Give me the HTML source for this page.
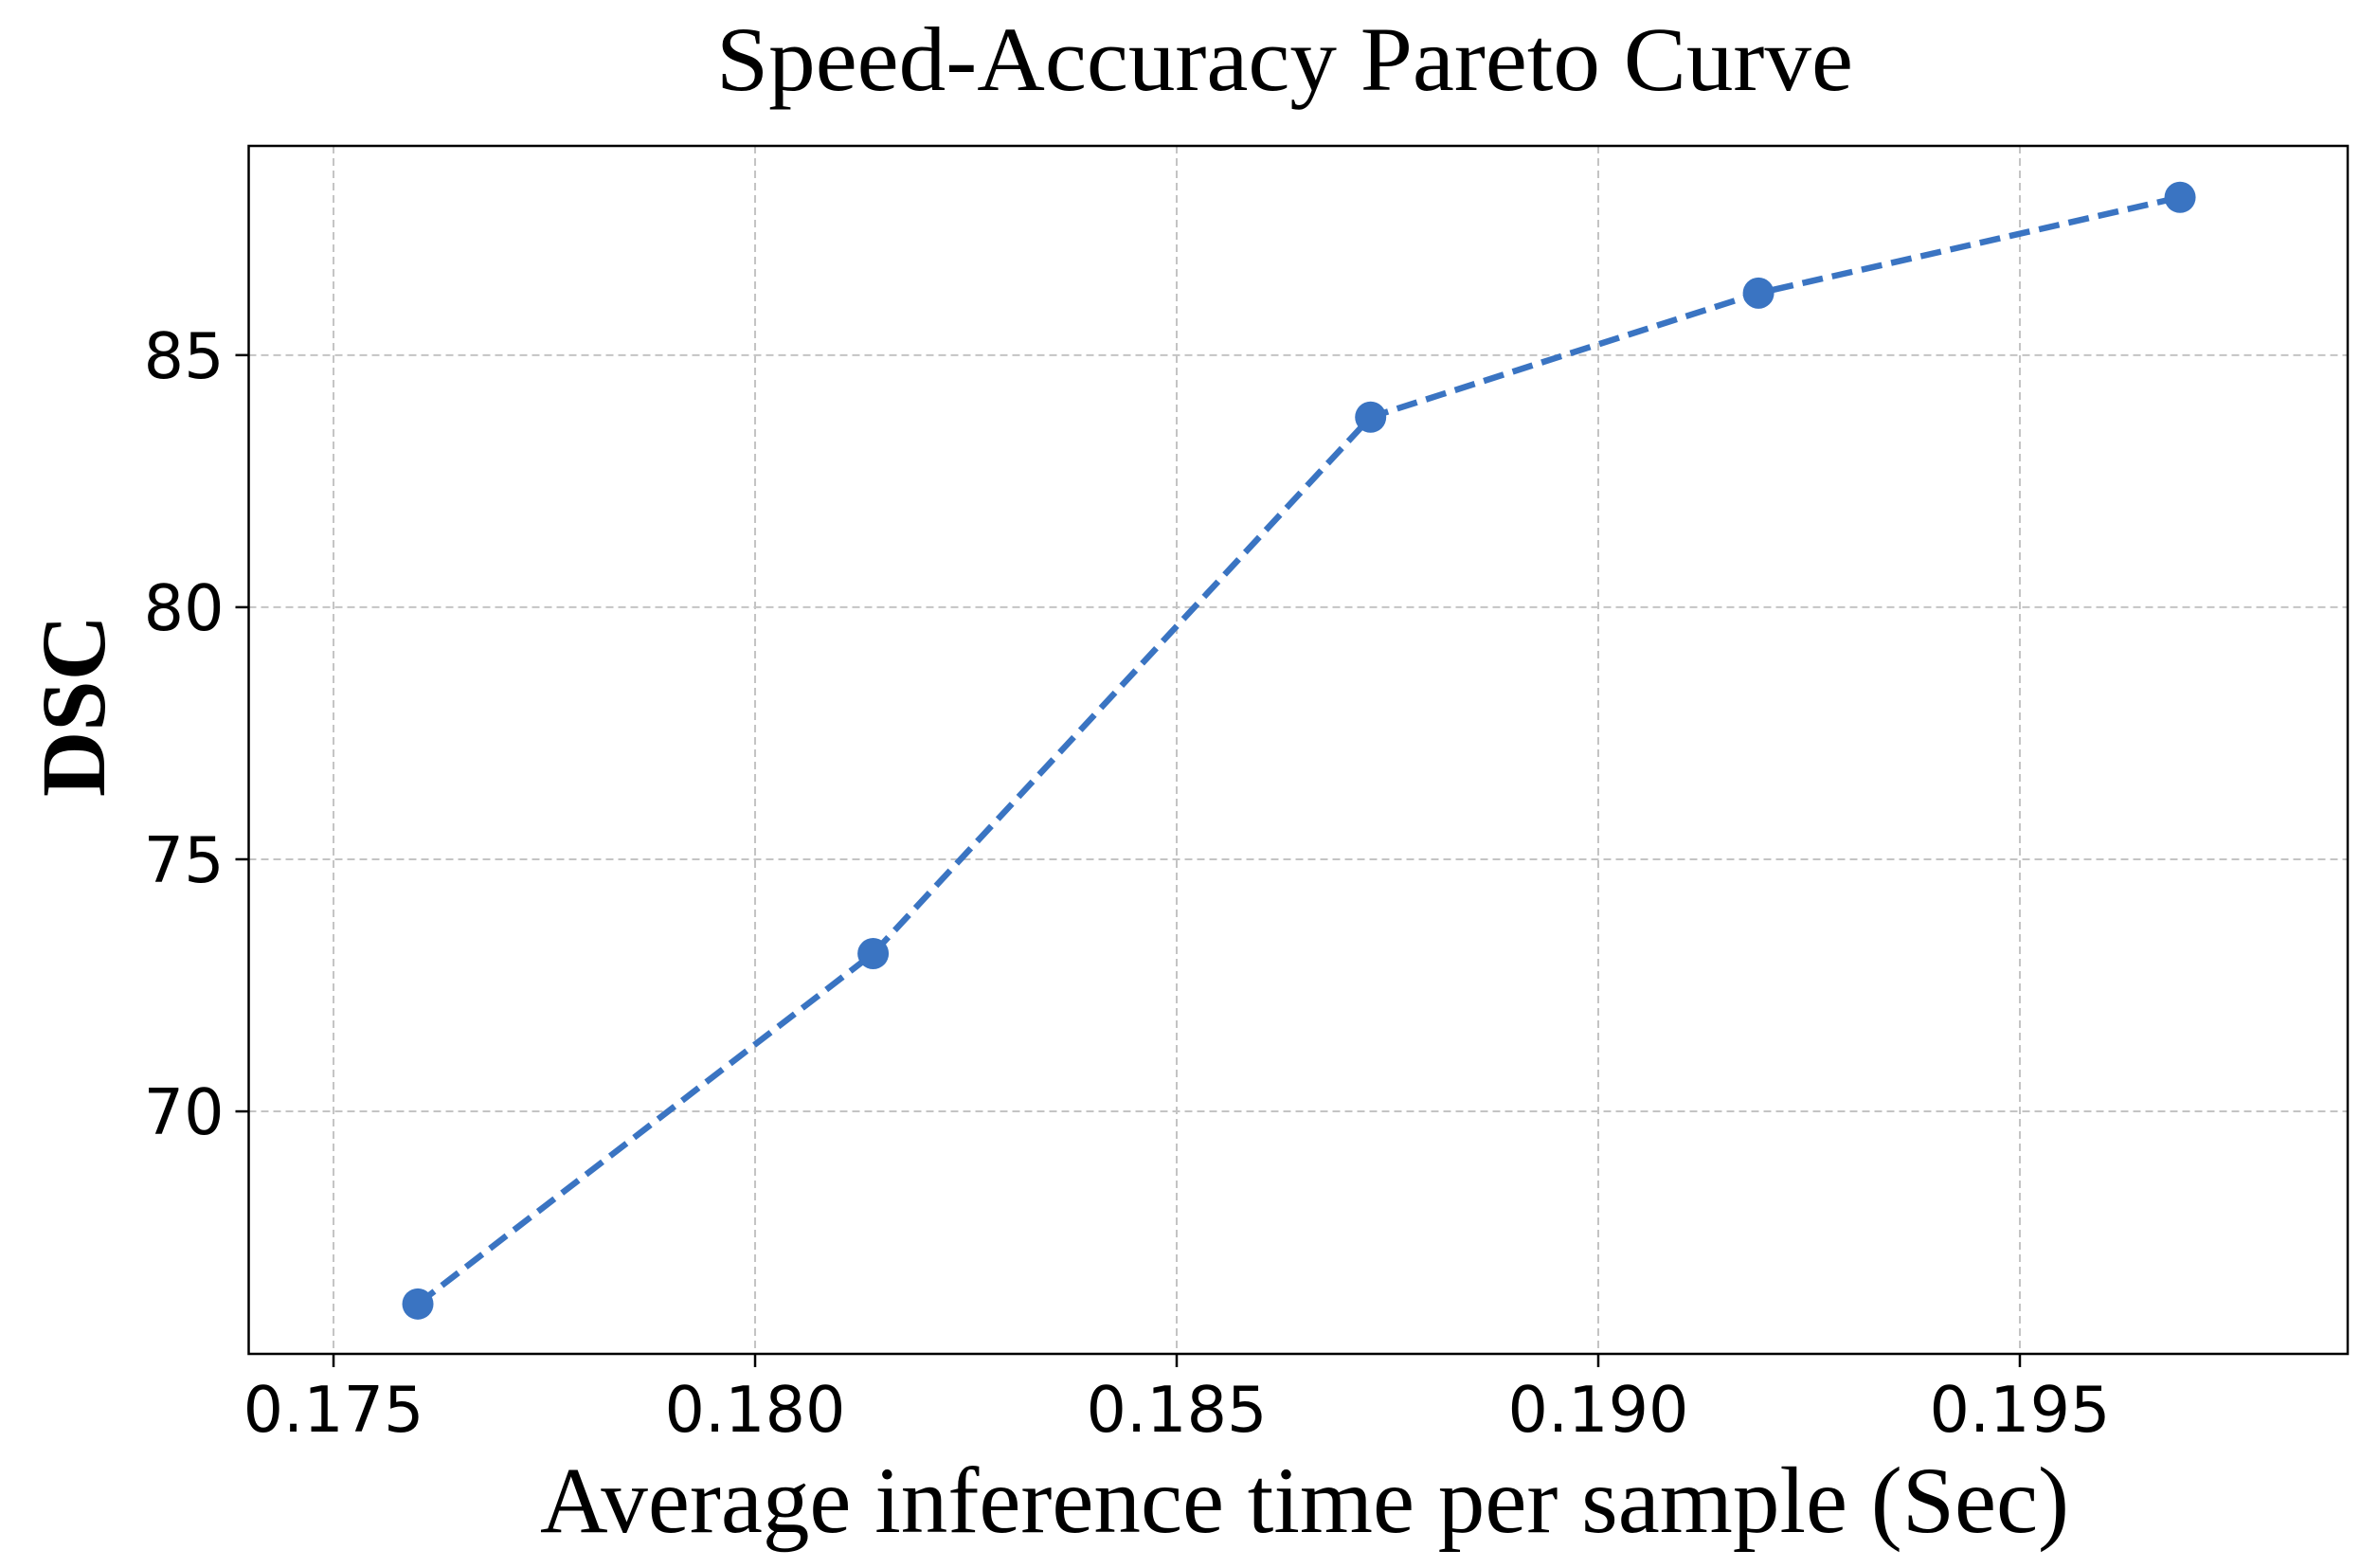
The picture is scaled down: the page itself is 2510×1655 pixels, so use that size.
<!DOCTYPE html>
<html><head><meta charset="utf-8"><style>html,body{margin:0;padding:0;background:#fff}svg{display:block}</style></head>
<body>
<svg id="chart" width="2510" height="1655" viewBox="0 0 2510 1655" xmlns="http://www.w3.org/2000/svg">
<rect width="2510" height="1655" fill="#fff"/>
<g id="grid"></g>
<g id="series"></g>
<rect x="262.5" y="154" width="2215.5" height="1275" fill="none" stroke="#000" stroke-width="2.5"/>
<g id="ticks"></g>
<text x="1356" y="95" text-anchor="middle" font-family="Liberation Serif, serif" font-size="96" textLength="1200" lengthAdjust="spacingAndGlyphs">Speed-Accuracy Pareto Curve</text>
<text x="1377" y="1617" text-anchor="middle" font-family="Liberation Serif, serif" font-size="100" textLength="1614" lengthAdjust="spacingAndGlyphs">Average inference time per sample (Sec)</text>
<text transform="translate(110,745) rotate(-90)" text-anchor="middle" font-family="Liberation Serif, serif" font-weight="bold" font-size="96" textLength="192" lengthAdjust="spacingAndGlyphs">DSC</text>
</svg>
<script>
const xValues = [0.1760, 0.1814, 0.1873, 0.1919, 0.1969];
const yValues = [66.18, 73.13, 83.77, 86.23, 88.13];
const xTicks = [0.175, 0.180, 0.185, 0.190, 0.195];
const xTickLabels = ["0.175", "0.180", "0.185", "0.190", "0.195"];
const yTicks = [70, 75, 80, 85];
const yTickLabels = ["70", "75", "80", "85"];

const L = 262.5, R = 2478, T = 154, B = 1429;
const xMin = 0.173994, xMax = 0.198888, yMin = 65.19, yMax = 89.15;
const xs = v => L + (v - xMin) / (xMax - xMin) * (R - L);
const ys = v => B - (v - yMin) / (yMax - yMin) * (B - T);
const NS = "http://www.w3.org/2000/svg";
function mk(tag, parent, attrs) {
  const e = document.createElementNS(NS, tag);
  for (const k in attrs) e.setAttribute(k, attrs[k]);
  parent.appendChild(e);
  return e;
}
const grid = document.getElementById('grid');
const ticks = document.getElementById('ticks');
const series = document.getElementById('series');

xTicks.forEach((v, i) => {
  const x = xs(v);
  const g = mk('line', grid, {x1: x, x2: x, y1: T, y2: B, stroke: '#c4c4c4', 'stroke-width': 2, 'stroke-dasharray': '8,5'});
  
  
  const t = mk('line', ticks, {x1: x, x2: x, y1: B, y2: B + 14, stroke: '#000', 'stroke-width': 2.5});
  
  
  const l = mk('text', ticks, {x: x, y: B + 82, 'text-anchor': 'middle', 'font-family': 'DejaVu Sans, sans-serif', 'font-size': 66.7});
  l.textContent = xTickLabels[i];
  
  
});
yTicks.forEach((v, i) => {
  const y = ys(v);
  const g = mk('line', grid, {x1: L, x2: R, y1: y, y2: y, stroke: '#c4c4c4', 'stroke-width': 2, 'stroke-dasharray': '8,5'});
  
  
  const t = mk('line', ticks, {x1: L - 14, x2: L, y1: y, y2: y, stroke: '#000', 'stroke-width': 2.5});
  
  
  const l = mk('text', ticks, {x: L - 26, y: y + 24, 'text-anchor': 'end', 'font-family': 'DejaVu Sans, sans-serif', 'font-size': 66.7});
  l.textContent = yTickLabels[i];
  
  
});
const pts = xValues.map((v, i) => xs(v) + ',' + ys(yValues[i])).join(' ');
const line = mk('polyline', series, {points: pts, fill: 'none', stroke: '#3a74c2', 'stroke-width': 6.5, 'stroke-dasharray': '22,10'});


xValues.forEach((v, i) => {
  const c = mk('circle', series, {cx: xs(v), cy: ys(yValues[i]), r: 16.5, fill: '#3a74c2'});
  
  
});
</script>
</body></html>
